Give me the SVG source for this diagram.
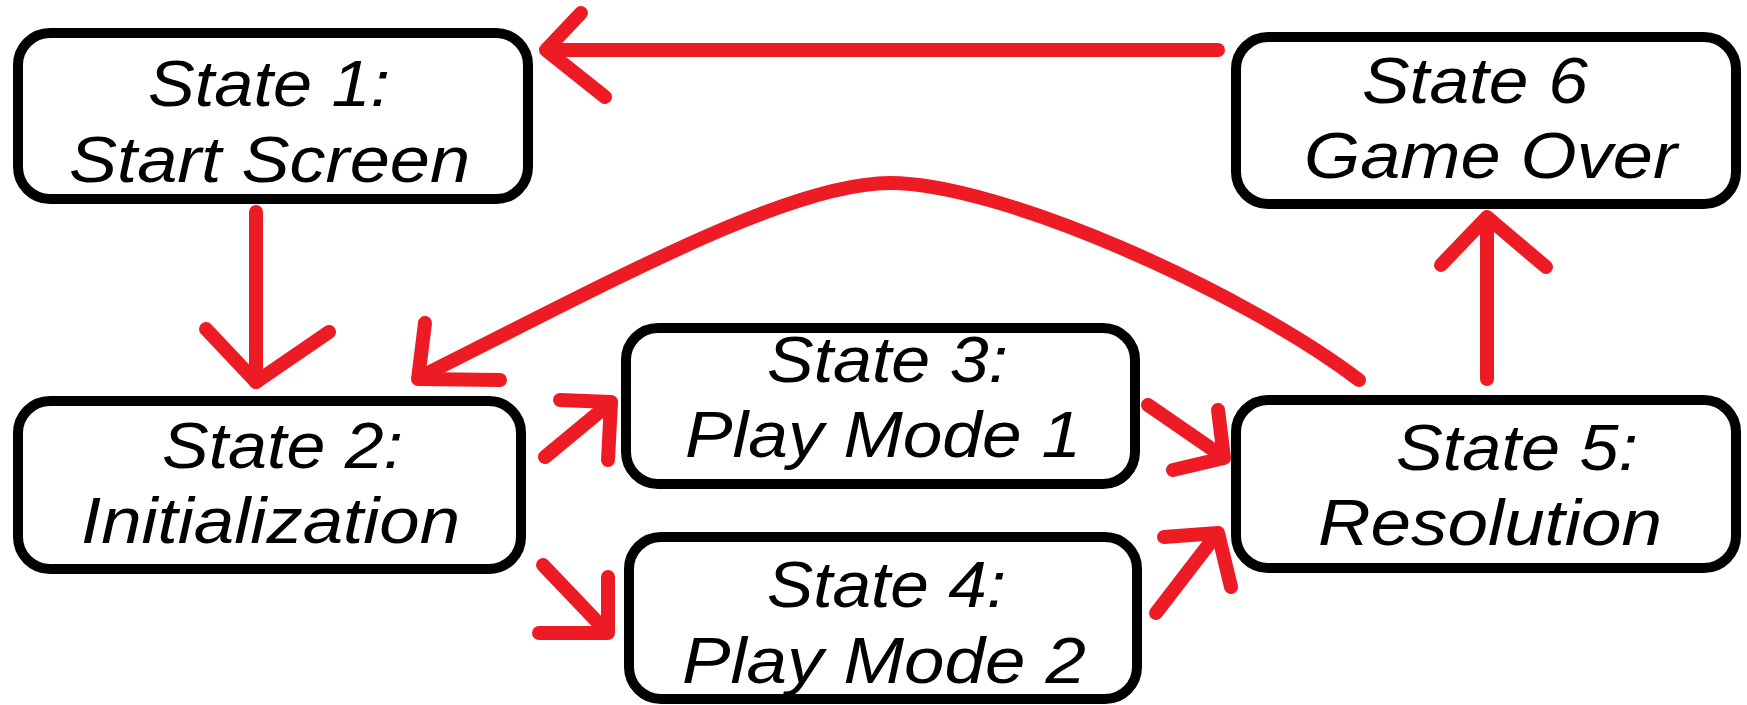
<svg xmlns="http://www.w3.org/2000/svg" width="1747" height="705" viewBox="0 0 1747 705">
<style>
.box{fill:#fff;stroke:#000;stroke-width:10}
.t{font-family:"Liberation Sans",Arial,sans-serif;font-style:italic;font-size:64px;fill:#000}
.c{fill:none;stroke:#ED1C24;stroke-width:14;stroke-linecap:round;stroke-linejoin:round}
</style>
<rect width="1747" height="705" fill="#fff"/>
<g id="connectors">
<path class="c" d="M1218,50 H548"/>
<path class="c" d="M581,13 L546,50 L605,97"/>
<path class="c" d="M256,212 V382"/>
<path class="c" d="M206,329 L256,382 L329,332"/>
<path class="c" d="M545,457 L609,404"/>
<path class="c" d="M560,400 L611,402 L608,460"/>
<path class="c" d="M543,565 L606,631"/>
<path class="c" d="M539,633 L608,633 L608,577"/>
<path class="c" d="M1148,405 L1222,456"/>
<path class="c" d="M1218,410 L1224,458 L1173,470"/>
<path class="c" d="M1156,613 L1216,535"/>
<path class="c" d="M1164,537 L1218,533 L1231,587"/>
<path class="c" d="M1487,379 V219"/>
<path class="c" d="M1441,265 L1487,217 L1546,267"/>
<path class="c" d="M1359,380 C1240,290 1000,183 890,183 C790,183 618,278 420,377"/>
<path class="c" d="M425,323 L418,379 L500,380"/>
</g>
<g id="state1">
<rect class="box" x="18" y="33" width="510" height="166" rx="32"/>
<text class="t" x="148" y="106" textLength="242" lengthAdjust="spacingAndGlyphs">State 1:</text>
<text class="t" x="69" y="182" textLength="401" lengthAdjust="spacingAndGlyphs">Start Screen</text>
</g>
<g id="state6">
<rect class="box" x="1236" y="37" width="500" height="167" rx="32"/>
<text class="t" x="1362" y="103" textLength="226" lengthAdjust="spacingAndGlyphs">State 6</text>
<text class="t" x="1304" y="178" textLength="373" lengthAdjust="spacingAndGlyphs">Game Over</text>
</g>
<g id="state2">
<rect class="box" x="18" y="401" width="503" height="168" rx="32"/>
<text class="t" x="162" y="468" textLength="241" lengthAdjust="spacingAndGlyphs">State 2:</text>
<text class="t" x="81" y="543" textLength="379" lengthAdjust="spacingAndGlyphs">Initialization</text>
</g>
<g id="state3">
<rect class="box" x="626" y="328" width="509" height="156" rx="32"/>
<text class="t" x="767" y="382" textLength="241" lengthAdjust="spacingAndGlyphs">State 3:</text>
<text class="t" x="685" y="457" textLength="396" lengthAdjust="spacingAndGlyphs">Play Mode 1</text>
</g>
<g id="state4">
<rect class="box" x="629" y="537" width="508" height="162" rx="32"/>
<text class="t" x="767" y="607" textLength="239" lengthAdjust="spacingAndGlyphs">State 4:</text>
<text class="t" x="682" y="683" textLength="404" lengthAdjust="spacingAndGlyphs">Play Mode 2</text>
</g>
<g id="state5">
<rect class="box" x="1236" y="400" width="500" height="168" rx="32"/>
<text class="t" x="1396" y="470" textLength="242" lengthAdjust="spacingAndGlyphs">State 5:</text>
<text class="t" x="1318" y="545" textLength="344" lengthAdjust="spacingAndGlyphs">Resolution</text>
</g>
</svg>
